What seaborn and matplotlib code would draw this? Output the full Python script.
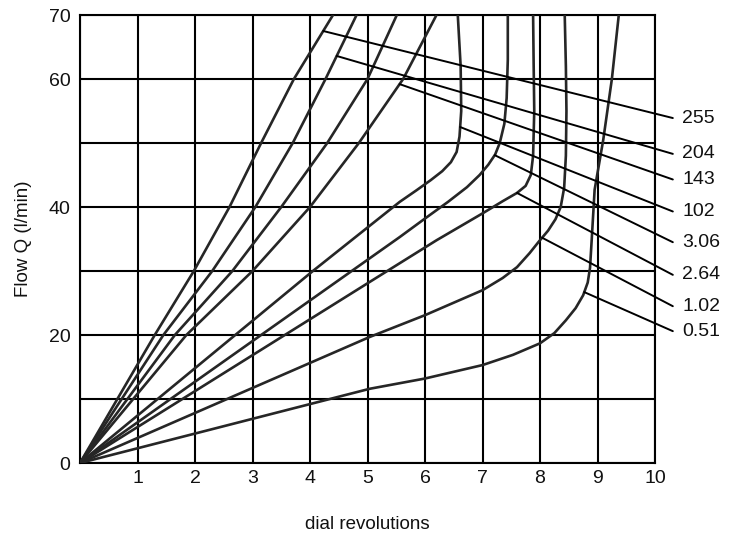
import numpy as np
import pandas as pd
import matplotlib
matplotlib.use("Agg")
import matplotlib.pyplot as plt
import seaborn as sns

# curves: dial revolutions (x) vs flow Q in l/min (y)
rev_255 = [0, 1.3, 1.98, 2.6, 3.15, 3.72, 4.4]
flow_255 = [0, 20, 30, 40, 50, 60, 70]
rev_204 = [0, 1.45, 2.3, 3.05, 3.7, 4.27, 4.81]
flow_204 = [0, 20, 30, 40, 50, 60, 70]
rev_nolabel = [0, 1.65, 2.65, 3.5, 4.3, 5.0, 5.51]
flow_nolabel = [0, 20, 30, 40, 50, 60, 70]
rev_143 = [0, 1.85, 3.0, 4.0, 4.85, 5.62, 6.2]
flow_143 = [0, 20, 30, 40, 50, 60, 70]
rev_102 = [0, 4.05, 5.56, 5.85, 6.1, 6.3, 6.45, 6.55, 6.6, 6.63, 6.62, 6.57]
flow_102 = [0, 30, 40.8, 42.6, 44.2, 45.6, 47.0, 48.6, 51, 55, 62, 70]
rev_306 = [0, 5.56, 6.0, 6.4, 6.73, 6.95, 7.1, 7.22, 7.3, 7.38, 7.42, 7.44, 7.44]
flow_306 = [0, 35.3, 38.2, 40.8, 43.1, 45.0, 46.6, 48.2, 50, 53, 57, 63, 70]
rev_264 = [0, 5.04, 6.2, 7.0, 7.35, 7.6, 7.75, 7.84, 7.88, 7.9, 7.89, 7.88]
flow_264 = [0, 28.3, 34.8, 39.0, 40.9, 42.2, 43.3, 45, 48, 55, 62, 70]
rev_102b = [0, 5.04, 6.0, 7.0, 7.35, 7.6, 7.82, 7.98, 8.14, 8.27, 8.36, 8.42, 8.45, 8.46, 8.45, 8.43]
flow_102b = [0, 19.7, 23.1, 27.0, 28.9, 30.6, 32.8, 34.6, 36.3, 38.1, 40, 43, 48, 55, 62, 70]
rev_051 = [0, 2, 5.04, 6.0, 7.0, 7.53, 8.0, 8.25, 8.45, 8.62, 8.75, 8.83, 8.87, 8.9, 8.95, 9.1, 9.25, 9.37]
flow_051 = [0, 4.6, 11.6, 13.2, 15.3, 16.9, 18.7, 20.3, 22.3, 24.2, 26.2, 28.2, 30.5, 35, 42.7, 50.5, 60, 70]

curve_revs = [rev_255, rev_204, rev_nolabel, rev_143, rev_102, rev_306, rev_264, rev_102b, rev_051]
curve_flows = [flow_255, flow_204, flow_nolabel, flow_143, flow_102, flow_306, flow_264, flow_102b, flow_051]

# labels on the right with the flow where each leader touches its curve
label_texts = ["255", "204", "143", "102", "3.06", "2.64", "1.02", "0.51"]
label_curve = [0, 1, 3, 4, 5, 6, 7, 8]
leader_flow = [67.5, 63.6, 59.2, 52.5, 48.1, 42.2, 35.2, 26.7]
label_flow = [53.9, 48.3, 44.3, 39.3, 34.5, 29.4, 24.5, 20.6]

x_ticks = list(range(0, 11))
x_labels = [""] + [str(v) for v in range(1, 11)]
y_ticks = list(range(0, 71, 10))
y_labels = ["0", "", "20", "", "40", "", "60", "70"]

sns.set_theme(style="white")
plt.rcParams['font.family'] = ['Liberation Sans', 'DejaVu Sans']

fig = plt.figure(figsize=(7.29, 5.34), dpi=100)
ax = fig.add_axes([80 / 729, 71 / 534, 575 / 729, 448 / 534])

for i, (xs, ys) in enumerate(zip(curve_revs, curve_flows)):
    df = pd.DataFrame({'rev': xs, 'flow': ys})
    sns.lineplot(data=df, x='rev', y='flow', sort=False, estimator=None,
                 color='#262626', linewidth=1.9, ax=ax, zorder=3)

ax.set_xlim(0, 10)
ax.set_ylim(0, 70)
ax.set_xticks(x_ticks)
ax.set_xticklabels(x_labels, fontsize=14)
ax.set_yticks(y_ticks)
ax.set_yticklabels(y_labels, fontsize=14)
ax.tick_params(axis='both', length=0, colors='#111111')
ax.tick_params(axis='x', pad=5)
ax.tick_params(axis='y', pad=7)
ax.grid(True, color='black', linewidth=1.5)
for sp in ax.spines.values():
    sp.set_color('black')
    sp.set_linewidth(1.5)

# leader lines and labels
for txt, ci, yf, yl in zip(label_texts, label_curve, leader_flow, label_flow):
    x0 = np.interp(yf, curve_flows[ci], curve_revs[ci])
    ax.plot([x0, 10.31], [yf, yl], color='black', linewidth=1.4, clip_on=False, zorder=4)
    ax.text(10.47, yl, txt, fontsize=14, va='center', ha='left', color='#111111')

ax.set_xlabel('dial revolutions', fontsize=13.5, labelpad=21, color='#111111')
ax.set_ylabel('Flow Q (l/min)', fontsize=13.5, labelpad=12, color='#111111')

plt.savefig('out.png', dpi=100)
